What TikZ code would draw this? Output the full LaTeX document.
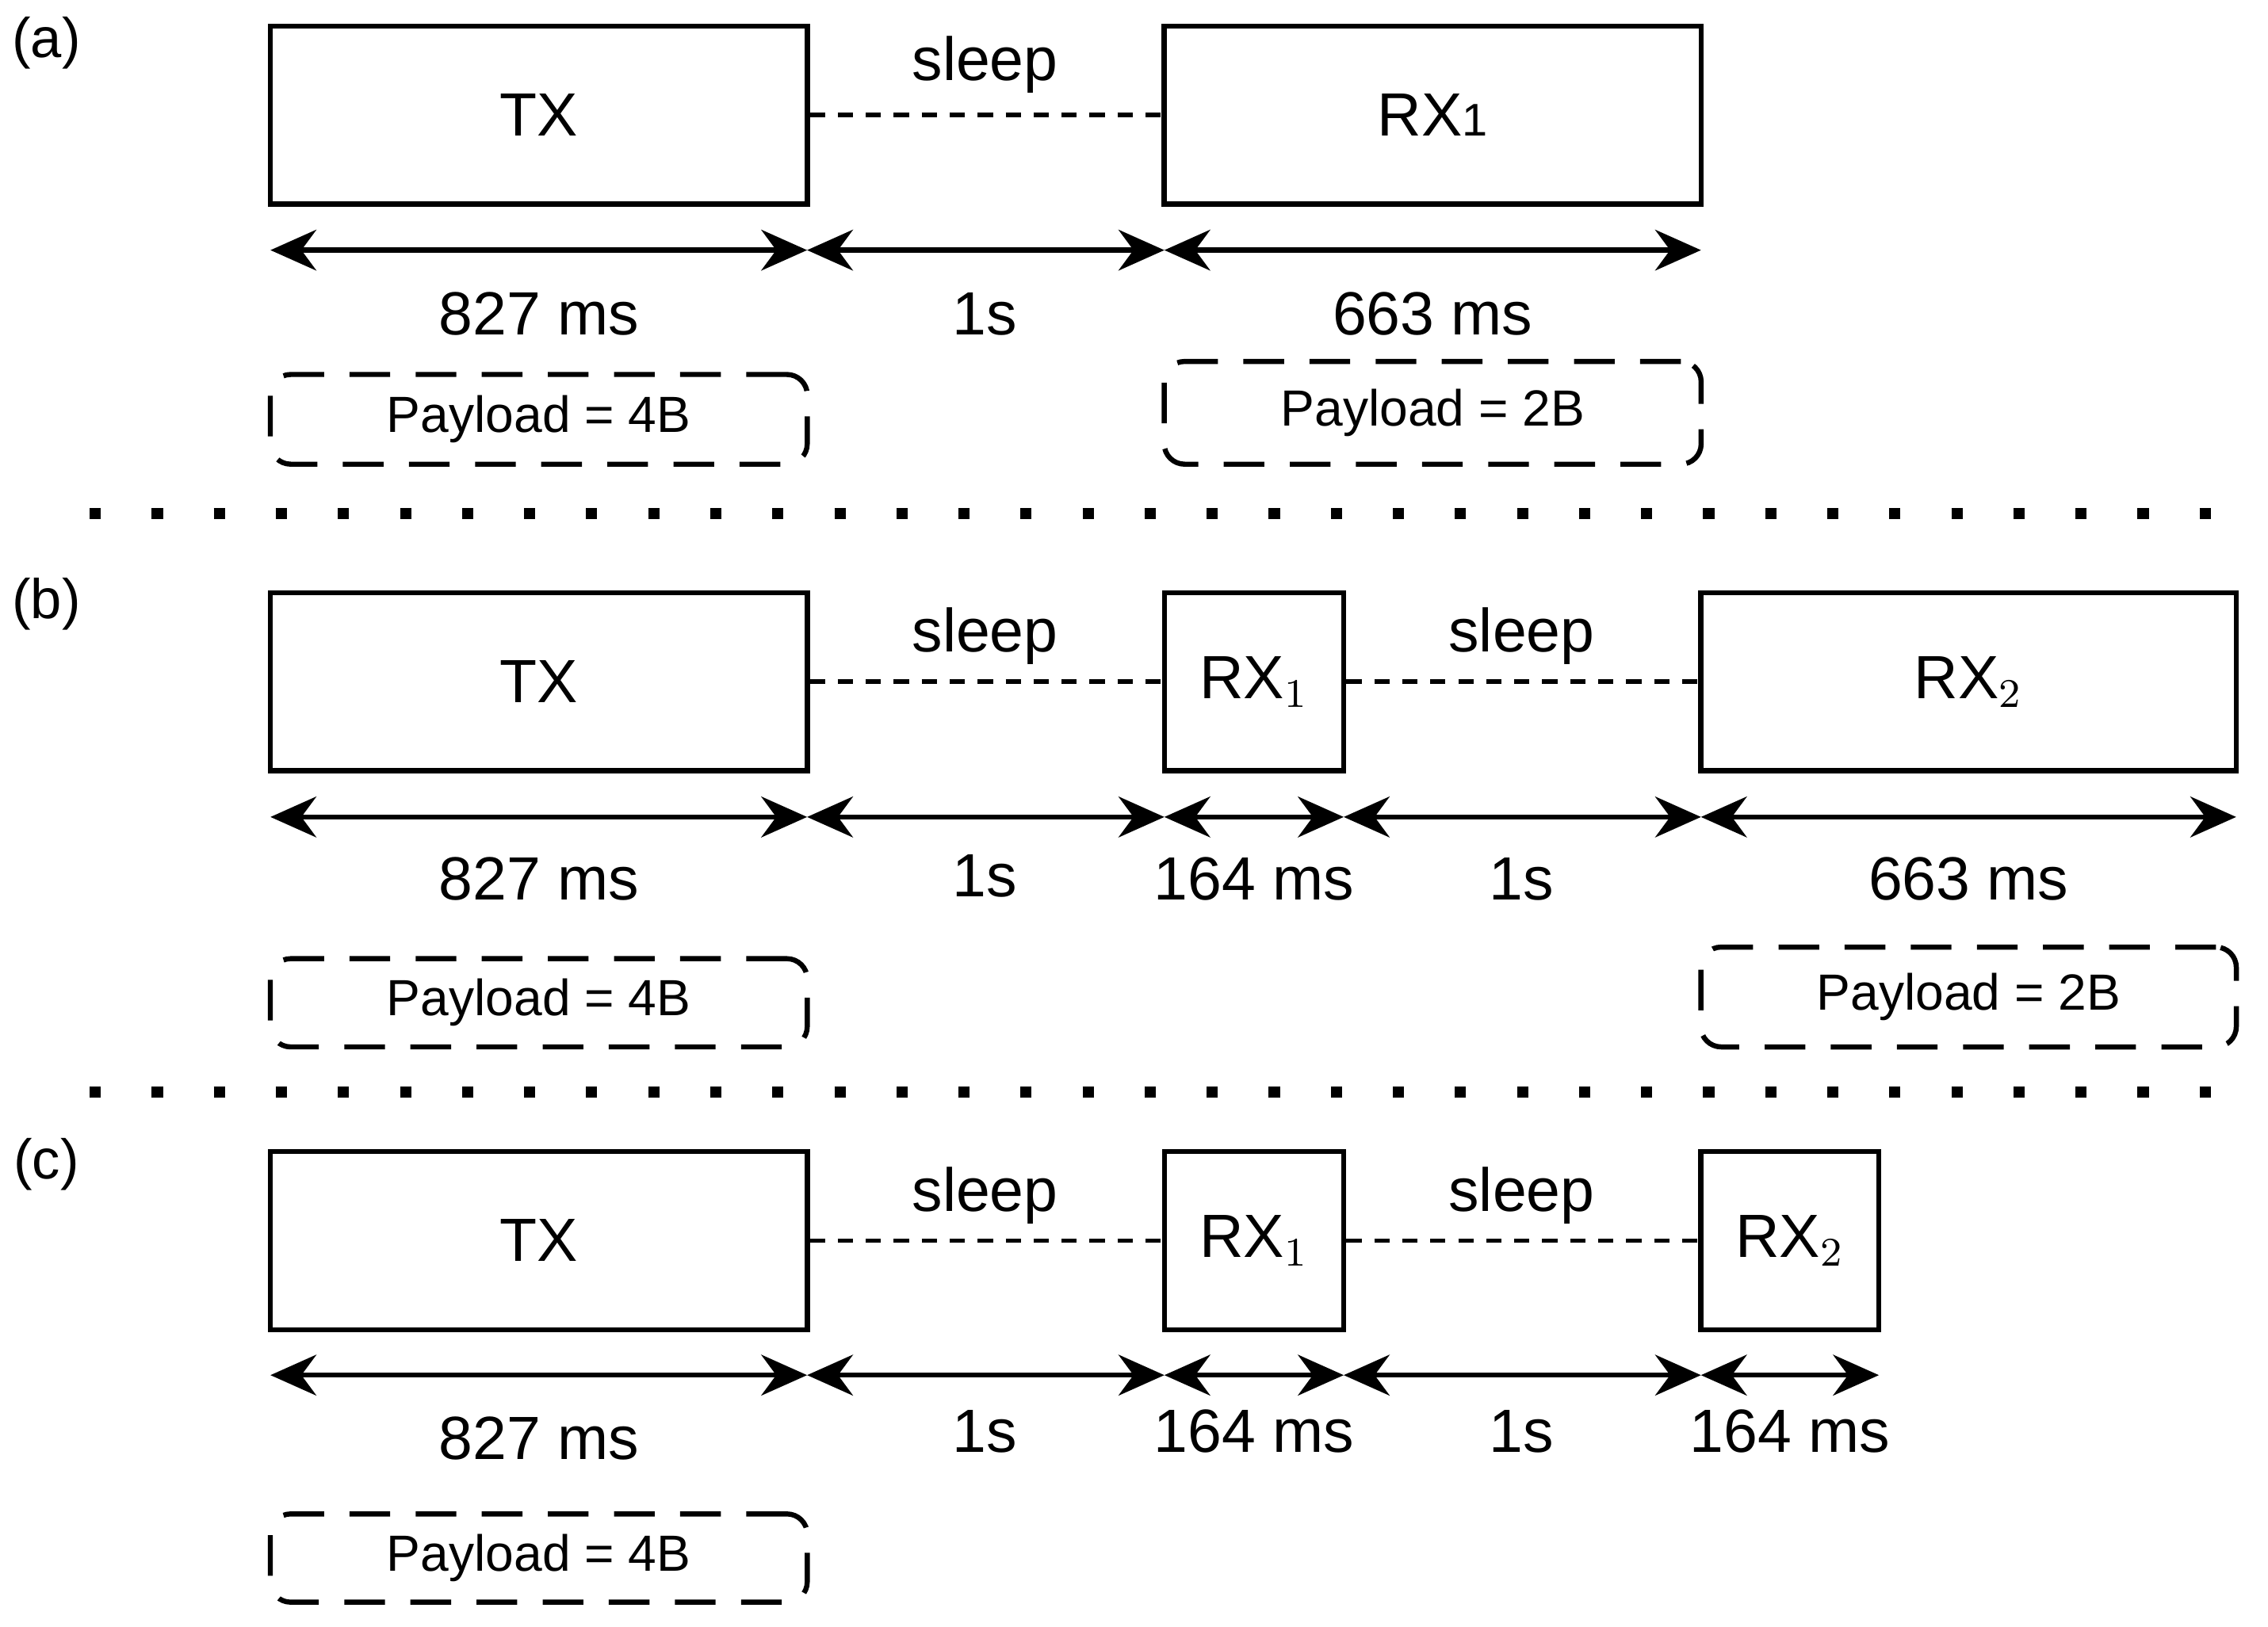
\documentclass[tikz,border=0pt]{standalone}
\usepackage{fontspec}
\setmainfont{Liberation Sans}
\usetikzlibrary{arrows.meta}
\begin{document}
\begin{tikzpicture}[x=0.01cm,y=-0.01cm,
  box/.style={draw,line width=1pt,minimum height=1.23cm,inner sep=0pt,font=\fontsize{12}{14}\selectfont},
  pay/.style={draw,line width=1pt,dash pattern=on 8pt off 5pt,rounded corners=4pt,inner sep=0pt,font=\fontsize{10}{12}\selectfont},
  dur/.style={line width=1pt,{Stealth[length=9pt,width=8pt]}-{Stealth[length=9pt,width=8pt]}},
  slp/.style={line width=0.9pt,dash pattern=on 3pt off 2.5pt},
  sep/.style={line width=2.2pt,dash pattern=on 2.2pt off 10pt},
  lab/.style={font=\fontsize{12}{14}\selectfont},
  tag/.style={font=\fontsize{11}{13}\selectfont}]
\useasboundingbox (0,0) rectangle (1568,1125);

% (a)
\node[tag] (la) at (32,30) {(a)};
\node[box,minimum width=3.71cm] (atx) at (372.5,79.5) {TX};
\node[box,minimum width=3.71cm] (arx) at (990.5,79.5) {RX{\fontsize{9}{10}\selectfont 1}};
\draw[slp] (atx.east) -- (arx.west);
\node[lab] (as) at (681,45) {sleep};
\coordinate (a0) at (187,173); \coordinate (a1) at (558,173);
\coordinate (a2) at (805,173); \coordinate (a3) at (1176,173);
\draw[dur] (a0) -- (a1); \draw[dur] (a1) -- (a2); \draw[dur] (a2) -- (a3);
\node[lab] (ad1) at (372.5,217) {827 ms};
\node[lab] (ad2) at (681,217) {1s};
\node[lab] (ad3) at (990.5,217) {663 ms};
\node[pay,minimum width=3.71cm,minimum height=0.62cm] (ap1) at (372.5,290) {Payload = 4B};
\node[pay,minimum width=3.71cm,minimum height=0.71cm] (ap2) at (990.5,285.5) {Payload = 2B};

\coordinate (s1a) at (62,355); \coordinate (s1b) at (1530,355);
\draw[sep] (s1a) -- (s1b);

% (b)
\node[tag] (lb) at (32,418) {(b)};
\node[box,minimum width=3.71cm] (btx) at (372.5,471.5) {TX};
\node[box,minimum width=1.24cm] (brx1) at (867,471.5) {RX$_1$};
\node[box,minimum width=3.70cm] (brx2) at (1361,471.5) {RX$_2$};
\draw[slp] (btx.east) -- (brx1.west);
\draw[slp] (brx1.east) -- (brx2.west);
\node[lab] (bs1) at (681,440) {sleep};
\node[lab] (bs2) at (1052,440) {sleep};
\coordinate (b0) at (187,565); \coordinate (b1) at (558,565);
\coordinate (b2) at (805,565); \coordinate (b3) at (929,565);
\coordinate (b4) at (1176,565); \coordinate (b5) at (1546,565);
\draw[dur] (b0) -- (b1); \draw[dur] (b1) -- (b2); \draw[dur] (b2) -- (b3);
\draw[dur] (b3) -- (b4); \draw[dur] (b4) -- (b5);
\node[lab] (bd1) at (372.5,608) {827 ms};
\node[lab] (bd2) at (681,606) {1s};
\node[lab] (bd3) at (867,608) {164 ms};
\node[lab] (bd4) at (1052,608) {1s};
\node[lab] (bd5) at (1361,608) {663 ms};
\node[pay,minimum width=3.71cm,minimum height=0.61cm] (bp1) at (372.5,693.5) {Payload = 4B};
\node[pay,minimum width=3.70cm,minimum height=0.69cm] (bp2) at (1361,689.5) {Payload = 2B};

\coordinate (s2a) at (62,755); \coordinate (s2b) at (1530,755);
\draw[sep] (s2a) -- (s2b);

% (c)
\node[tag] (lc) at (32,805) {(c)};
\node[box,minimum width=3.71cm] (ctx) at (372.5,858) {TX};
\node[box,minimum width=1.24cm] (crx1) at (867,858) {RX$_1$};
\node[box,minimum width=1.23cm] (crx2) at (1237.5,858) {RX$_2$};
\draw[slp] (ctx.east) -- (crx1.west);
\draw[slp] (crx1.east) -- (crx2.west);
\node[lab] (cs1) at (681,827) {sleep};
\node[lab] (cs2) at (1052,827) {sleep};
\coordinate (c0) at (187,951); \coordinate (c1) at (558,951);
\coordinate (c2) at (805,951); \coordinate (c3) at (929,951);
\coordinate (c4) at (1176,951); \coordinate (c5) at (1299,951);
\draw[dur] (c0) -- (c1); \draw[dur] (c1) -- (c2); \draw[dur] (c2) -- (c3);
\draw[dur] (c3) -- (c4); \draw[dur] (c4) -- (c5);
\node[lab] (cd1) at (372.5,995) {827 ms};
\node[lab] (cd2) at (681,990) {1s};
\node[lab] (cd3) at (867,990) {164 ms};
\node[lab] (cd4) at (1052,990) {1s};
\node[lab] (cd5) at (1237.5,990) {164 ms};
\node[pay,minimum width=3.71cm,minimum height=0.61cm] (cp1) at (372.5,1077.5) {Payload = 4B};
\end{tikzpicture}
\end{document}
